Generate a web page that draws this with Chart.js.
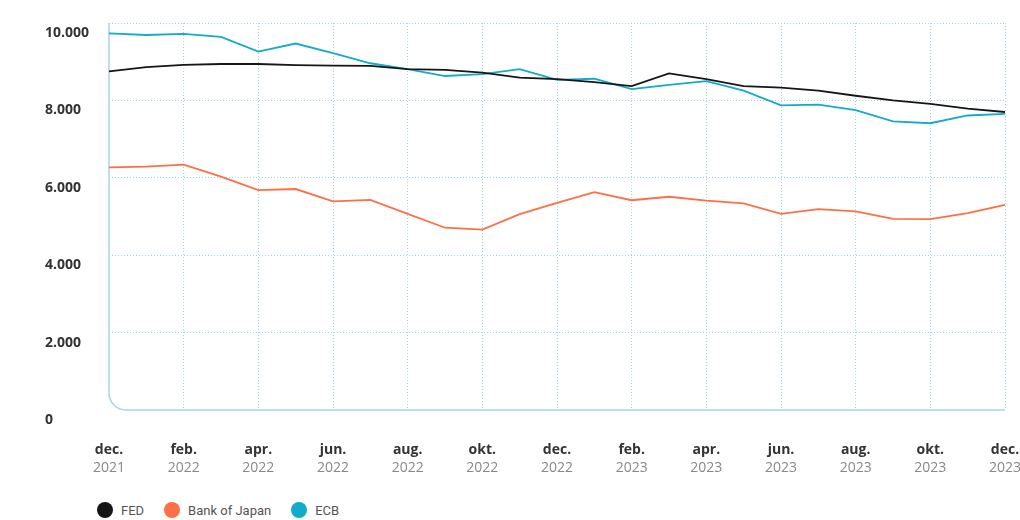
<!DOCTYPE html>
<html>
<head>
<meta charset="utf-8">
<script src="https://cdn.jsdelivr.net/npm/chart.js@4"></script>
<style>
  body { margin: 0; background: #fff; overflow: hidden; width: 1020px; height: 520px; }
  #wrap { position: relative; width: 1021px; height: 490px; }
  #legend { position: absolute; left: 97px; top: 502px; display: flex; align-items: center;
            font-family: Roboto, sans-serif; font-size: 13px; color: #555; }
  #legend span.item { display: flex; align-items: center; margin-right: 20px; }
  #legend span.dot { width: 16px; height: 16px; border-radius: 50%; margin-right: 8px; display: inline-block; }
</style>
</head>
<body>
<div id="wrap"><canvas id="rateChart"></canvas></div>
<div id="legend"></div>
<script>
// Months dec 2021 .. dec 2023
var months = ['dec.', 'jan.', 'feb.', 'mar.', 'apr.', 'maj', 'jun.', 'jul.', 'aug.', 'sep.', 'okt.', 'nov.',
              'dec.', 'jan.', 'feb.', 'mar.', 'apr.', 'maj', 'jun.', 'jul.', 'aug.', 'sep.', 'okt.', 'nov.', 'dec.'];
var years = ['2021', '2022', '2022', '2022', '2022', '2022', '2022', '2022', '2022', '2022', '2022', '2022',
             '2022', '2023', '2023', '2023', '2023', '2023', '2023', '2023', '2023', '2023', '2023', '2023', '2023'];

var fed = [8750, 8860, 8920, 8940, 8940, 8910, 8900, 8890, 8810, 8790, 8720, 8590,
           8550, 8470, 8370, 8700, 8550, 8370, 8330, 8250, 8120, 8000, 7910, 7790, 7700];
var boj = [6270, 6290, 6340, 6030, 5680, 5710, 5390, 5430, 5070, 4710, 4660, 5060,
           5350, 5630, 5420, 5510, 5410, 5340, 5070, 5190, 5130, 4940, 4930, 5090, 5300];
var ecb = [9730, 9690, 9720, 9640, 9260, 9470, 9220, 8960, 8810, 8630, 8680, 8810,
           8530, 8560, 8290, 8400, 8500, 8250, 7870, 7890, 7750, 7460, 7410, 7610, 7650];

var seriesNames = ['FED', 'Bank of Japan', 'ECB'];
var seriesColors = ['#161616', '#ff6f45', '#12abcc'];

var gridColor = '#a6d2ea';
var axisColor = '#a9d4ea';
var fontFamily = '"Open Sans", sans-serif';

function fmt(v) {
    return String(v).replace(/\B(?=(\d{3})+(?!\d))/g, '.');
}

// Solid left/bottom axis with a rounded corner
var framePlugin = {
    id: 'frame',
    beforeDatasetsDraw: function (chart) {
        var a = chart.chartArea;
        var c = chart.ctx;
        var r = 17;
        c.save();
        c.strokeStyle = axisColor;
        c.lineWidth = 1.5;
        c.beginPath();
        c.moveTo(a.left, a.top);
        c.lineTo(a.left, a.bottom - r);
        c.arcTo(a.left, a.bottom, a.left + r, a.bottom, r);
        c.lineTo(a.right, a.bottom);
        c.stroke();
        c.restore();
    }
};

// fixed axis sizes so the plot area lands where the reference has it
function fixX(h) {
    return function (s) {
        s.height = h;
        s.paddingLeft = 0;
        s.paddingRight = 16;
    };
}

var datasets = [fed, boj, ecb].map(function (d, i) {
    return {
        label: seriesNames[i],
        data: d,
        borderColor: seriesColors[i],
        backgroundColor: seriesColors[i],
        borderWidth: 1.8,
        pointRadius: 0,
        tension: 0
    };
});

var ctx = document.getElementById('rateChart').getContext('2d');
var chart = new Chart(ctx, {
    type: 'line',
    data: { labels: months, datasets: datasets },
    plugins: [framePlugin],
    options: {
        responsive: true,
        maintainAspectRatio: false,
        animation: false,
        layout: { padding: { left: 45, top: 23, right: 0, bottom: 0 } },
        plugins: {
            legend: { display: false },
            tooltip: { enabled: false }
        },
        scales: {
            x: {
                afterFit: fixX(49),
                grid: {
                    drawTicks: false,
                    color: function (c) { return (c.index % 2 === 0 && c.index > 0) ? gridColor : 'transparent'; }
                },
                border: { display: false, dash: [1, 2] },
                ticks: {
                    autoSkip: false, maxRotation: 0, padding: 32,
                    color: '#333', font: { family: fontFamily, size: 14, weight: 'bold' },
                    callback: function (v, i) { return i % 2 === 0 ? months[i] : ''; }
                }
            },
            x2: {
                type: 'category',
                position: 'bottom',
                labels: years,
                afterFit: fixX(31),
                grid: { display: false, drawTicks: false },
                border: { display: false },
                ticks: {
                    autoSkip: false, maxRotation: 0, padding: 1,
                    color: '#888', font: { family: fontFamily, size: 14 },
                    callback: function (v, i) { return i % 2 === 0 ? years[i] : ''; }
                }
            },
            y: {
                min: 0, max: 10000,
                afterFit: function (s) { s.width = 64; s.paddingTop = 0; s.paddingBottom = 0; },
                grid: {
                    drawTicks: false,
                    color: function (c) { return c.tick && c.tick.value === 0 ? 'transparent' : gridColor; }
                },
                border: { display: false, dash: [1, 2] },
                ticks: {
                    stepSize: 2000, labelOffset: 10, crossAlign: 'far', padding: 16,
                    color: '#333', font: { family: fontFamily, size: 14, weight: 'bold' },
                    callback: function (v) { return fmt(v); }
                }
            }
        }
    }
});

// Legend below the chart
var legend = document.getElementById('legend');
seriesNames.forEach(function (name, i) {
    var item = document.createElement('span');
    item.className = 'item';
    var dot = document.createElement('span');
    dot.className = 'dot';
    dot.style.background = seriesColors[i];
    item.appendChild(dot);
    item.appendChild(document.createTextNode(name));
    legend.appendChild(item);
});
</script>
</body>
</html>
